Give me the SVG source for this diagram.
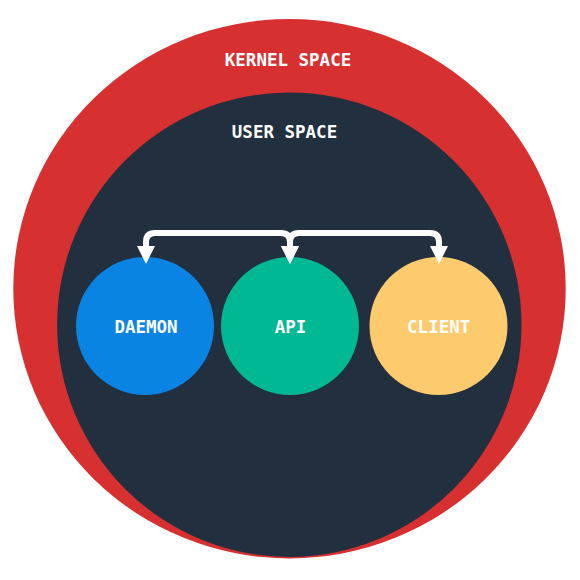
<svg xmlns="http://www.w3.org/2000/svg" width="580" height="580" viewBox="0 0 580 580">
<style>
.lbl{font-family:"DejaVu Sans Mono","Liberation Mono",monospace;font-weight:bold;font-size:17.5px;fill:#ffffff;text-anchor:middle}
.edge{fill:none;stroke:#ffffff;stroke-width:6;stroke-linejoin:round}
</style>
<defs>
<marker id="arr" markerUnits="userSpaceOnUse" markerWidth="18" markerHeight="18" refX="0" refY="9" orient="auto-start-reverse" viewBox="0 0 18 18">
<path d="M0,0 L18,9 L0,18 z" fill="#ffffff"/>
</marker>
</defs>
<rect width="580" height="580" fill="#ffffff"/>
<g id="kernel">
<ellipse cx="289.5" cy="288.7" rx="276.2" ry="269.7" fill="#d63031"/>
<text class="lbl" x="288" y="66">KERNEL SPACE</text>
</g>
<g id="user">
<circle cx="289.3" cy="324.7" r="232.2" fill="#222f3e"/>
<text class="lbl" x="284.5" y="138">USER SPACE</text>
</g>
<g id="daemon">
<circle cx="145" cy="326" r="69" fill="#0984e3"/>
<text class="lbl" x="146" y="333">DAEMON</text>
</g>
<g id="api">
<circle cx="290" cy="326" r="69" fill="#00b894"/>
<text class="lbl" x="290.5" y="333">API</text>
</g>
<g id="client">
<circle cx="438.5" cy="326" r="69" fill="#fdcb6e"/>
<text class="lbl" x="438.7" y="333">CLIENT</text>
</g>
<g id="connectors">
<path class="edge" d="M290,246 V242 Q290,233 281,233 H155 Q146,233 146,242 V246" marker-start="url(#arr)" marker-end="url(#arr)"/>
<path class="edge" d="M290,246 V242 Q290,233 299,233 H430 Q439,233 439,242 V246" marker-start="url(#arr)" marker-end="url(#arr)"/>
</g>
</svg>
